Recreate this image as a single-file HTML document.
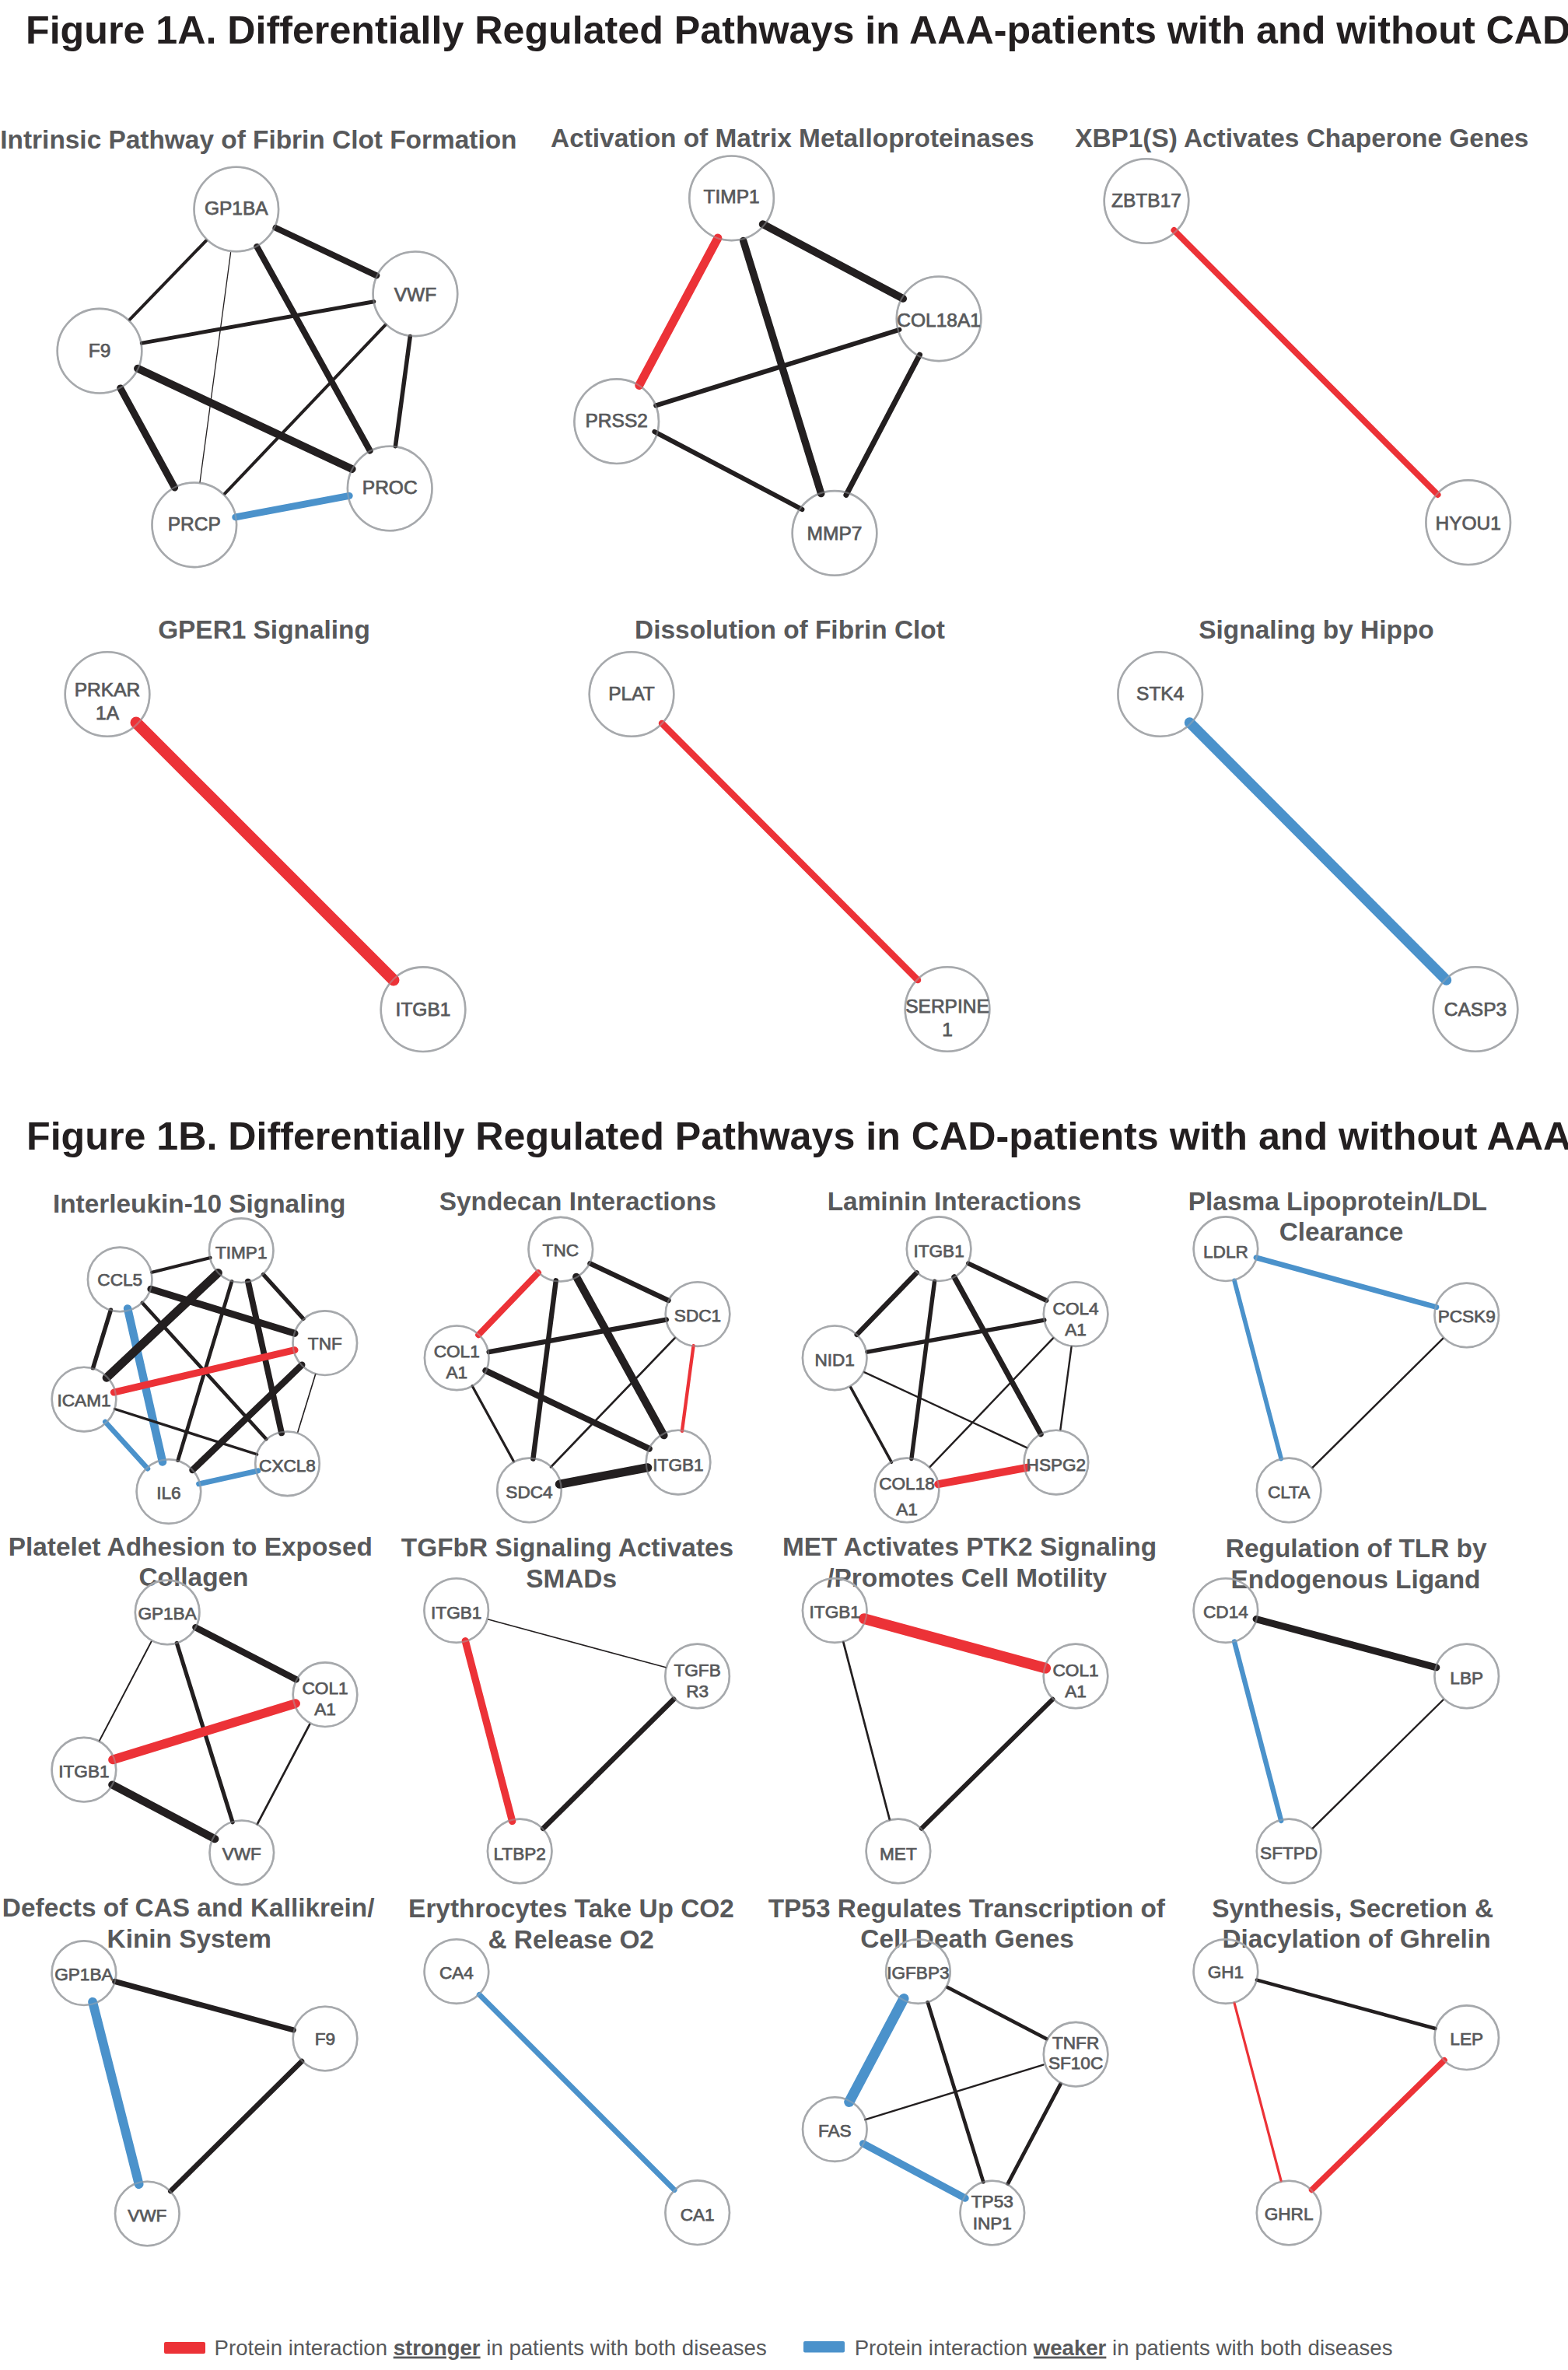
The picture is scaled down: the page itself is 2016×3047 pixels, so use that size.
<!DOCTYPE html>
<html><head><meta charset="utf-8"><style>
html,body{margin:0;padding:0;background:#fff;width:2016px;height:3047px;overflow:hidden}
svg{display:block;font-family:"Liberation Sans",sans-serif}
</style></head><body>
<svg width="2016" height="3047" viewBox="0 0 2016 3047">
<g font-weight="bold" fill="#231f20" font-size="50.2">
<text x="33" y="56">Figure 1A. Differentially Regulated Pathways in AAA-patients with and without CAD</text>
<text x="34" y="1477.5">Figure 1B. Differentially Regulated Pathways in CAD-patients with and without AAA</text>
</g>
<g font-weight="bold" fill="#58595b" xml:space="preserve">
<text x="332.4" y="190.6" font-size="33.40" text-anchor="middle">Intrinsic Pathway of Fibrin Clot Formation</text>
<text x="1018.8" y="189" font-size="33.40" text-anchor="middle">Activation of Matrix Metalloproteinases</text>
<text x="1673.8" y="189" font-size="33.40" text-anchor="middle">XBP1(S) Activates Chaperone Genes</text>
<text x="339.5" y="821" font-size="33.40" text-anchor="middle">GPER1 Signaling</text>
<text x="1015.5" y="821" font-size="33.40" text-anchor="middle">Dissolution of Fibrin Clot</text>
<text x="1692.5" y="821" font-size="33.40" text-anchor="middle">Signaling by Hippo</text>
<text x="256.2" y="1559" font-size="33.40" text-anchor="middle">Interleukin-10 Signaling</text>
<text x="742.8" y="1556.3" font-size="33.40" text-anchor="middle">Syndecan Interactions</text>
<text x="1227.0" y="1556.3" font-size="33.40" text-anchor="middle">Laminin Interactions</text>
<text x="1719.8" y="1555.5" font-size="33.40" text-anchor="middle">Plasma Lipoprotein/LDL</text>
<text x="1724.5" y="1594.8" font-size="33.40" text-anchor="middle">Clearance</text>
<text x="244.8" y="1999.8" font-size="33.40" text-anchor="middle">Platelet Adhesion to Exposed</text>
<text x="249.0" y="2039" font-size="33.40" text-anchor="middle">Collagen</text>
<text x="729.5" y="2001.3" font-size="33.40" text-anchor="middle">TGFbR Signaling Activates</text>
<text x="734.6" y="2041" font-size="33.40" text-anchor="middle">SMADs</text>
<text x="1006" y="2000.4" font-size="33.40">MET Activates PTK2 Signaling</text>
<text x="1243.2" y="2040.2" font-size="33.40" text-anchor="middle">/Promotes Cell Motility</text>
<text x="1743.7" y="2002.2" font-size="33.40" text-anchor="middle">Regulation of TLR by</text>
<text x="1743.0" y="2042" font-size="33.40" text-anchor="middle">Endogenous Ligand</text>
<text x="242.2" y="2464" font-size="33.40" text-anchor="middle">Defects of CAS and Kallikrein/</text>
<text x="243.3" y="2504.4" font-size="33.40" text-anchor="middle">Kinin System</text>
<text x="734.5" y="2465.3" font-size="33.40" text-anchor="middle">Erythrocytes Take Up CO2</text>
<text x="734.2" y="2505.1" font-size="33.40" text-anchor="middle">&amp; Release O2</text>
<text x="987.7" y="2465.3" font-size="33.40">TP53 Regulates Transcription of</text>
<text x="1243.6" y="2504.2" font-size="33.40" text-anchor="middle">Cell Death   Genes</text>
<text x="1739.1" y="2465.3" font-size="33.40" text-anchor="middle">Synthesis, Secretion &amp;</text>
<text x="1744.0" y="2504.2" font-size="33.40" text-anchor="middle">Diacylation of   Ghrelin</text>
</g>
<g fill="none" stroke="#a7a9ac" stroke-width="2.6"><circle cx="303.8" cy="269.0" r="54.3"/><circle cx="533.9" cy="377.8" r="54.3"/><circle cx="128.0" cy="451.2" r="54.3"/><circle cx="249.8" cy="674.8" r="54.3"/><circle cx="501.2" cy="628.0" r="54.3"/><circle cx="940.6" cy="254.8" r="54.3"/><circle cx="1207.1" cy="409.8" r="54.3"/><circle cx="792.7" cy="541.7" r="54.3"/><circle cx="1073.0" cy="685.4" r="54.3"/><circle cx="1474.0" cy="258.5" r="54.3"/><circle cx="1887.7" cy="671.7" r="54.3"/><circle cx="138.0" cy="892.5" r="54.3"/><circle cx="544.0" cy="1297.7" r="54.3"/><circle cx="812.0" cy="892.5" r="54.3"/><circle cx="1218.0" cy="1297.5" r="54.3"/><circle cx="1491.7" cy="892.5" r="54.3"/><circle cx="1897.0" cy="1297.5" r="54.3"/><circle cx="310.2" cy="1607.7" r="41.3"/><circle cx="154.2" cy="1644.9" r="41.3"/><circle cx="417.8" cy="1726.7" r="41.3"/><circle cx="108.0" cy="1799.1" r="41.3"/><circle cx="369.5" cy="1881.8" r="41.3"/><circle cx="216.9" cy="1917.6" r="41.3"/><circle cx="720.8" cy="1606.2" r="41.3"/><circle cx="897.0" cy="1689.6" r="41.3"/><circle cx="587.2" cy="1745.8" r="41.3"/><circle cx="872.0" cy="1880.1" r="41.3"/><circle cx="680.5" cy="1915.9" r="41.3"/><circle cx="1207.1" cy="1605.7" r="41.3"/><circle cx="1383.1" cy="1689.6" r="41.3"/><circle cx="1073.2" cy="1745.8" r="41.3"/><circle cx="1357.9" cy="1880.1" r="41.3"/><circle cx="1166.0" cy="1915.9" r="41.3"/><circle cx="1575.9" cy="1605.7" r="41.3"/><circle cx="1885.7" cy="1690.9" r="41.3"/><circle cx="1657.1" cy="1915.9" r="41.3"/><circle cx="215.1" cy="2072.9" r="41.3"/><circle cx="418.0" cy="2178.7" r="41.3"/><circle cx="107.9" cy="2275.2" r="41.3"/><circle cx="310.8" cy="2381.8" r="41.3"/><circle cx="586.7" cy="2070.6" r="41.3"/><circle cx="896.6" cy="2154.9" r="41.3"/><circle cx="668.2" cy="2379.9" r="41.3"/><circle cx="1073.2" cy="2070.6" r="41.3"/><circle cx="1383.0" cy="2154.9" r="41.3"/><circle cx="1154.9" cy="2379.9" r="41.3"/><circle cx="1575.9" cy="2070.6" r="41.3"/><circle cx="1885.7" cy="2154.9" r="41.3"/><circle cx="1657.1" cy="2379.9" r="41.3"/><circle cx="107.9" cy="2536.7" r="41.3"/><circle cx="418.0" cy="2621.0" r="41.3"/><circle cx="189.3" cy="2846.0" r="41.3"/><circle cx="586.9" cy="2534.6" r="41.3"/><circle cx="896.7" cy="2844.7" r="41.3"/><circle cx="1180.4" cy="2534.6" r="41.3"/><circle cx="1383.1" cy="2641.2" r="41.3"/><circle cx="1073.3" cy="2737.6" r="41.3"/><circle cx="1275.8" cy="2845.0" r="41.3"/><circle cx="1575.9" cy="2534.6" r="41.3"/><circle cx="1885.7" cy="2619.7" r="41.3"/><circle cx="1657.1" cy="2845.0" r="41.3"/></g>
<g stroke-linecap="round"><line x1="354.5" y1="293.0" x2="484.3" y2="354.3" stroke="#231f20" stroke-width="8"/><line x1="264.9" y1="309.5" x2="166.8" y2="410.8" stroke="#231f20" stroke-width="4"/><line x1="296.6" y1="324.7" x2="257.0" y2="620.2" stroke="#231f20" stroke-width="1.3"/><line x1="330.3" y1="317.1" x2="475.7" y2="579.5" stroke="#231f20" stroke-width="8"/><line x1="480.8" y1="387.7" x2="182.3" y2="441.1" stroke="#231f20" stroke-width="5"/><line x1="495.6" y1="417.7" x2="289.0" y2="634.6" stroke="#231f20" stroke-width="4"/><line x1="527.3" y1="432.5" x2="508.4" y2="573.7" stroke="#231f20" stroke-width="5.5"/><line x1="177.1" y1="473.8" x2="452.6" y2="603.0" stroke="#231f20" stroke-width="10"/><line x1="154.7" y1="498.9" x2="224.6" y2="627.0" stroke="#231f20" stroke-width="9"/><line x1="302.8" y1="664.9" x2="449.2" y2="637.4" stroke="#4b92cb" stroke-width="9"/><line x1="922.9" y1="306.1" x2="821.8" y2="495.4" stroke="#ec3237" stroke-width="11"/><line x1="980.7" y1="288.2" x2="1161.1" y2="383.9" stroke="#231f20" stroke-width="9.8"/><line x1="955.7" y1="309.6" x2="1055.7" y2="634.6" stroke="#231f20" stroke-width="9.5"/><line x1="843.2" y1="521.4" x2="1156.4" y2="423.9" stroke="#231f20" stroke-width="6"/><line x1="841.4" y1="555.0" x2="1031.4" y2="655.0" stroke="#231f20" stroke-width="6"/><line x1="1182.5" y1="456.1" x2="1087.9" y2="636.4" stroke="#231f20" stroke-width="7"/><line x1="1509.5" y1="296.0" x2="1848.5" y2="636.0" stroke="#ec3237" stroke-width="8"/><line x1="175.0" y1="929.0" x2="506.0" y2="1260.0" stroke="#ec3237" stroke-width="15"/><line x1="851.0" y1="930.0" x2="1180.0" y2="1260.0" stroke="#ec3237" stroke-width="8.5"/><line x1="1529.5" y1="929.0" x2="1859.5" y2="1260.0" stroke="#4b92cb" stroke-width="13.5"/><line x1="195.4" y1="1635.8" x2="270.5" y2="1617.0" stroke="#231f20" stroke-width="4.2"/><line x1="193.9" y1="1657.3" x2="379.0" y2="1714.3" stroke="#231f20" stroke-width="9"/><line x1="142.4" y1="1684.2" x2="119.6" y2="1758.7" stroke="#231f20" stroke-width="5.5"/><line x1="164.1" y1="1682.4" x2="209.0" y2="1879.5" stroke="#4b92cb" stroke-width="10.5"/><line x1="182.9" y1="1675.0" x2="342.4" y2="1850.2" stroke="#231f20" stroke-width="4.5"/><line x1="280.4" y1="1636.4" x2="137.1" y2="1771.3" stroke="#231f20" stroke-width="11"/><line x1="298.0" y1="1647.6" x2="228.7" y2="1877.7" stroke="#231f20" stroke-width="4.7"/><line x1="318.9" y1="1647.6" x2="362.0" y2="1842.4" stroke="#231f20" stroke-width="7.8"/><line x1="338.5" y1="1638.4" x2="390.0" y2="1695.4" stroke="#231f20" stroke-width="5.2"/><line x1="379.0" y1="1735.7" x2="146.3" y2="1790.1" stroke="#ec3237" stroke-width="9"/><line x1="388.2" y1="1754.8" x2="247.5" y2="1890.0" stroke="#231f20" stroke-width="8.5"/><line x1="405.7" y1="1766.6" x2="382.9" y2="1841.1" stroke="#231f20" stroke-width="1.6"/><line x1="147.6" y1="1811.5" x2="330.6" y2="1869.9" stroke="#231f20" stroke-width="3.4"/><line x1="135.3" y1="1828.0" x2="190.0" y2="1888.2" stroke="#4b92cb" stroke-width="6.5"/><line x1="255.6" y1="1907.8" x2="331.9" y2="1890.8" stroke="#4b92cb" stroke-width="7"/><line x1="692.0" y1="1636.3" x2="615.2" y2="1716.2" stroke="#ec3237" stroke-width="8"/><line x1="758.5" y1="1624.3" x2="859.5" y2="1672.0" stroke="#231f20" stroke-width="6.4"/><line x1="714.8" y1="1646.3" x2="685.4" y2="1875.5" stroke="#231f20" stroke-width="6.4"/><line x1="741.1" y1="1641.7" x2="853.6" y2="1845.3" stroke="#231f20" stroke-width="10"/><line x1="628.6" y1="1738.1" x2="856.8" y2="1696.6" stroke="#231f20" stroke-width="6.4"/><line x1="624.3" y1="1762.2" x2="834.8" y2="1862.7" stroke="#231f20" stroke-width="8"/><line x1="607.1" y1="1781.8" x2="660.4" y2="1878.8" stroke="#231f20" stroke-width="3.2"/><line x1="868.0" y1="1719.9" x2="708.1" y2="1886.2" stroke="#231f20" stroke-width="2.7"/><line x1="891.6" y1="1730.1" x2="876.9" y2="1839.9" stroke="#ec3237" stroke-width="4.3"/><line x1="719.4" y1="1908.2" x2="832.7" y2="1886.8" stroke="#231f20" stroke-width="11.2"/><line x1="1178.6" y1="1636.3" x2="1101.7" y2="1715.9" stroke="#231f20" stroke-width="6.4"/><line x1="1245.0" y1="1624.3" x2="1345.5" y2="1672.0" stroke="#231f20" stroke-width="5.9"/><line x1="1201.6" y1="1647.1" x2="1171.9" y2="1875.5" stroke="#231f20" stroke-width="5.4"/><line x1="1226.8" y1="1641.7" x2="1338.2" y2="1843.9" stroke="#231f20" stroke-width="7"/><line x1="1115.1" y1="1738.1" x2="1342.8" y2="1697.1" stroke="#231f20" stroke-width="5.4"/><line x1="1111.1" y1="1764.1" x2="1320.5" y2="1861.3" stroke="#231f20" stroke-width="2.4"/><line x1="1093.7" y1="1783.7" x2="1146.4" y2="1880.1" stroke="#231f20" stroke-width="3.5"/><line x1="1354.3" y1="1720.2" x2="1195.4" y2="1886.2" stroke="#231f20" stroke-width="2.4"/><line x1="1377.6" y1="1731.4" x2="1363.4" y2="1838.0" stroke="#231f20" stroke-width="2.4"/><line x1="1206.2" y1="1908.2" x2="1320.0" y2="1886.8" stroke="#ec3237" stroke-width="10"/><line x1="1615.1" y1="1616.8" x2="1846.8" y2="1680.5" stroke="#4b92cb" stroke-width="7.0"/><line x1="1587.0" y1="1646.3" x2="1647.2" y2="1875.5" stroke="#4b92cb" stroke-width="5.7"/><line x1="1855.4" y1="1720.7" x2="1687.4" y2="1886.8" stroke="#231f20" stroke-width="2.4"/><line x1="251.4" y1="2092.3" x2="380.8" y2="2159.3" stroke="#231f20" stroke-width="8.4"/><line x1="194.6" y1="2110.5" x2="127.7" y2="2238.3" stroke="#231f20" stroke-width="1.9"/><line x1="227.3" y1="2112.4" x2="299.1" y2="2342.8" stroke="#231f20" stroke-width="5.2"/><line x1="380.0" y1="2190.1" x2="145.1" y2="2262.4" stroke="#ec3237" stroke-width="11.8"/><line x1="398.2" y1="2216.9" x2="330.7" y2="2345.4" stroke="#231f20" stroke-width="2.7"/><line x1="144.3" y1="2294.6" x2="276.3" y2="2364.2" stroke="#231f20" stroke-width="10.2"/><line x1="627.8" y1="2082.1" x2="856.3" y2="2143.8" stroke="#231f20" stroke-width="1.6"/><line x1="598.3" y1="2109.7" x2="658.6" y2="2341.4" stroke="#ec3237" stroke-width="9.4"/><line x1="866.2" y1="2184.7" x2="698.2" y2="2350.8" stroke="#231f20" stroke-width="6.6"/><line x1="1111.1" y1="2081.1" x2="1344.1" y2="2144.6" stroke="#ec3237" stroke-width="13.9"/><line x1="1084.3" y1="2111.1" x2="1143.8" y2="2339.3" stroke="#231f20" stroke-width="2.7"/><line x1="1353.5" y1="2184.7" x2="1184.7" y2="2350.8" stroke="#231f20" stroke-width="5.9"/><line x1="1615.1" y1="2081.6" x2="1846.8" y2="2143.8" stroke="#231f20" stroke-width="9.0"/><line x1="1587.0" y1="2110.5" x2="1647.2" y2="2340.9" stroke="#4b92cb" stroke-width="6.4"/><line x1="1855.4" y1="2185.5" x2="1687.4" y2="2350.8" stroke="#231f20" stroke-width="2.4"/><line x1="147.8" y1="2547.5" x2="377.3" y2="2609.9" stroke="#231f20" stroke-width="7.2"/><line x1="119.1" y1="2573.8" x2="178.6" y2="2808.1" stroke="#4b92cb" stroke-width="11.8"/><line x1="388.0" y1="2650.1" x2="219.3" y2="2817.0" stroke="#231f20" stroke-width="6.6"/><line x1="616.3" y1="2564.4" x2="867.0" y2="2815.4" stroke="#4b92cb" stroke-width="7.0"/><line x1="1162.0" y1="2569.7" x2="1091.8" y2="2702.3" stroke="#4b92cb" stroke-width="13.2"/><line x1="1218.2" y1="2555.0" x2="1345.5" y2="2621.2" stroke="#231f20" stroke-width="4.6"/><line x1="1192.8" y1="2574.3" x2="1264.3" y2="2805.4" stroke="#231f20" stroke-width="4.6"/><line x1="1341.4" y1="2654.6" x2="1112.4" y2="2725.1" stroke="#231f20" stroke-width="2.4"/><line x1="1363.4" y1="2679.6" x2="1295.9" y2="2807.3" stroke="#231f20" stroke-width="4.8"/><line x1="1109.7" y1="2755.9" x2="1241.0" y2="2826.1" stroke="#4b92cb" stroke-width="9.4"/><line x1="1615.9" y1="2545.6" x2="1845.4" y2="2608.0" stroke="#231f20" stroke-width="4.6"/><line x1="1587.0" y1="2575.1" x2="1647.2" y2="2804.1" stroke="#ec3237" stroke-width="3.2"/><line x1="1857.0" y1="2648.8" x2="1686.6" y2="2815.4" stroke="#ec3237" stroke-width="7.6"/></g>
<g fill="none" stroke="#a7a9ac" stroke-width="2.2" stroke-opacity="0.45"><circle cx="303.8" cy="269.0" r="54.3"/><circle cx="533.9" cy="377.8" r="54.3"/><circle cx="128.0" cy="451.2" r="54.3"/><circle cx="249.8" cy="674.8" r="54.3"/><circle cx="501.2" cy="628.0" r="54.3"/><circle cx="940.6" cy="254.8" r="54.3"/><circle cx="1207.1" cy="409.8" r="54.3"/><circle cx="792.7" cy="541.7" r="54.3"/><circle cx="1073.0" cy="685.4" r="54.3"/><circle cx="1474.0" cy="258.5" r="54.3"/><circle cx="1887.7" cy="671.7" r="54.3"/><circle cx="138.0" cy="892.5" r="54.3"/><circle cx="544.0" cy="1297.7" r="54.3"/><circle cx="812.0" cy="892.5" r="54.3"/><circle cx="1218.0" cy="1297.5" r="54.3"/><circle cx="1491.7" cy="892.5" r="54.3"/><circle cx="1897.0" cy="1297.5" r="54.3"/><circle cx="310.2" cy="1607.7" r="41.3"/><circle cx="154.2" cy="1644.9" r="41.3"/><circle cx="417.8" cy="1726.7" r="41.3"/><circle cx="108.0" cy="1799.1" r="41.3"/><circle cx="369.5" cy="1881.8" r="41.3"/><circle cx="216.9" cy="1917.6" r="41.3"/><circle cx="720.8" cy="1606.2" r="41.3"/><circle cx="897.0" cy="1689.6" r="41.3"/><circle cx="587.2" cy="1745.8" r="41.3"/><circle cx="872.0" cy="1880.1" r="41.3"/><circle cx="680.5" cy="1915.9" r="41.3"/><circle cx="1207.1" cy="1605.7" r="41.3"/><circle cx="1383.1" cy="1689.6" r="41.3"/><circle cx="1073.2" cy="1745.8" r="41.3"/><circle cx="1357.9" cy="1880.1" r="41.3"/><circle cx="1166.0" cy="1915.9" r="41.3"/><circle cx="1575.9" cy="1605.7" r="41.3"/><circle cx="1885.7" cy="1690.9" r="41.3"/><circle cx="1657.1" cy="1915.9" r="41.3"/><circle cx="215.1" cy="2072.9" r="41.3"/><circle cx="418.0" cy="2178.7" r="41.3"/><circle cx="107.9" cy="2275.2" r="41.3"/><circle cx="310.8" cy="2381.8" r="41.3"/><circle cx="586.7" cy="2070.6" r="41.3"/><circle cx="896.6" cy="2154.9" r="41.3"/><circle cx="668.2" cy="2379.9" r="41.3"/><circle cx="1073.2" cy="2070.6" r="41.3"/><circle cx="1383.0" cy="2154.9" r="41.3"/><circle cx="1154.9" cy="2379.9" r="41.3"/><circle cx="1575.9" cy="2070.6" r="41.3"/><circle cx="1885.7" cy="2154.9" r="41.3"/><circle cx="1657.1" cy="2379.9" r="41.3"/><circle cx="107.9" cy="2536.7" r="41.3"/><circle cx="418.0" cy="2621.0" r="41.3"/><circle cx="189.3" cy="2846.0" r="41.3"/><circle cx="586.9" cy="2534.6" r="41.3"/><circle cx="896.7" cy="2844.7" r="41.3"/><circle cx="1180.4" cy="2534.6" r="41.3"/><circle cx="1383.1" cy="2641.2" r="41.3"/><circle cx="1073.3" cy="2737.6" r="41.3"/><circle cx="1275.8" cy="2845.0" r="41.3"/><circle cx="1575.9" cy="2534.6" r="41.3"/><circle cx="1885.7" cy="2619.7" r="41.3"/><circle cx="1657.1" cy="2845.0" r="41.3"/></g>
<g fill="#58595b" text-anchor="middle" stroke="#58595b" stroke-width="0.75"><text x="303.8" y="275.8" font-size="24.5">GP1BA</text><text x="533.9" y="387.3" font-size="24.5">VWF</text><text x="128.0" y="458.7" font-size="24.5">F9</text><text x="249.8" y="681.6" font-size="24.5">PRCP</text><text x="501.2" y="634.8" font-size="24.5">PROC</text><text x="940.6" y="261.3" font-size="24.5">TIMP1</text><text x="1207.1" y="420.3" font-size="24.5">COL18A1</text><text x="792.7" y="549.2" font-size="24.5">PRSS2</text><text x="1073.0" y="693.9" font-size="24.5">MMP7</text><text x="1474.0" y="266.0" font-size="24.5">ZBTB17</text><text x="1887.7" y="681.0" font-size="24.5">HYOU1</text><text x="138.0" y="895.0" font-size="24.5">PRKAR</text><text x="138.0" y="925.0" font-size="24.5">1A</text><text x="544.0" y="1306.0" font-size="24.5">ITGB1</text><text x="812.0" y="900.0" font-size="24.5">PLAT</text><text x="1218.0" y="1302.0" font-size="24.5">SERPINE</text><text x="1218.0" y="1332.0" font-size="24.5">1</text><text x="1491.7" y="900.0" font-size="24.5">STK4</text><text x="1897.0" y="1306.0" font-size="24.5">CASP3</text><text x="310.2" y="1618.0" font-size="22.6">TIMP1</text><text x="154.2" y="1653.3" font-size="22.6">CCL5</text><text x="417.8" y="1734.7" font-size="22.6">TNF</text><text x="108.0" y="1807.9" font-size="22.6">ICAM1</text><text x="369.5" y="1892.1" font-size="22.6">CXCL8</text><text x="216.9" y="1927.4" font-size="22.6">IL6</text><text x="720.8" y="1614.9" font-size="22.6">TNC</text><text x="897.0" y="1698.8" font-size="22.6">SDC1</text><text x="587.2" y="1744.8" font-size="22.6">COL1</text><text x="587.2" y="1771.6" font-size="22.6">A1</text><text x="872.0" y="1890.8" font-size="22.6">ITGB1</text><text x="680.5" y="1925.6" font-size="22.6">SDC4</text><text x="1207.1" y="1616.3" font-size="22.6">ITGB1</text><text x="1383.1" y="1689.9" font-size="22.6">COL4</text><text x="1383.1" y="1716.7" font-size="22.6">A1</text><text x="1073.2" y="1756.1" font-size="22.6">NID1</text><text x="1357.9" y="1890.8" font-size="22.6">HSPG2</text><text x="1166.0" y="1914.9" font-size="22.6">COL18</text><text x="1166.0" y="1948.4" font-size="22.6">A1</text><text x="1575.9" y="1616.7" font-size="22.6">LDLR</text><text x="1885.7" y="1699.8" font-size="22.6">PCSK9</text><text x="1657.1" y="1925.6" font-size="22.6">CLTA</text><text x="215.1" y="2082.1" font-size="22.6">GP1BA</text><text x="418.0" y="2178.0" font-size="22.6">COL1</text><text x="418.0" y="2204.8" font-size="22.6">A1</text><text x="107.9" y="2285.2" font-size="22.6">ITGB1</text><text x="310.8" y="2391.0" font-size="22.6">VWF</text><text x="586.7" y="2081.1" font-size="22.6">ITGB1</text><text x="896.6" y="2154.7" font-size="22.6">TGFB</text><text x="896.6" y="2182.0" font-size="22.6">R3</text><text x="668.2" y="2391.0" font-size="22.6">LTBP2</text><text x="1073.2" y="2080.3" font-size="22.6">ITGB1</text><text x="1383.0" y="2155.3" font-size="22.6">COL1</text><text x="1383.0" y="2182.0" font-size="22.6">A1</text><text x="1154.9" y="2391.0" font-size="22.6">MET</text><text x="1575.9" y="2080.3" font-size="22.6">CD14</text><text x="1885.7" y="2165.2" font-size="22.6">LBP</text><text x="1657.1" y="2390.2" font-size="22.6">SFTPD</text><text x="107.9" y="2545.6" font-size="22.6">GP1BA</text><text x="418.0" y="2628.7" font-size="22.6">F9</text><text x="189.3" y="2856.3" font-size="22.6">VWF</text><text x="586.9" y="2544.3" font-size="22.6">CA4</text><text x="896.7" y="2855.0" font-size="22.6">CA1</text><text x="1180.4" y="2544.3" font-size="22.6">IGFBP3</text><text x="1383.1" y="2633.5" font-size="22.6">TNFR</text><text x="1383.1" y="2659.5" font-size="22.6">SF10C</text><text x="1073.3" y="2746.5" font-size="22.6">FAS</text><text x="1275.8" y="2837.6" font-size="22.6">TP53</text><text x="1275.8" y="2865.7" font-size="22.6">INP1</text><text x="1575.9" y="2543.0" font-size="22.6">GH1</text><text x="1885.7" y="2628.7" font-size="22.6">LEP</text><text x="1657.1" y="2853.7" font-size="22.6">GHRL</text></g>
<rect x="211" y="3011" width="53" height="15" rx="2" fill="#ec3237"/>
<rect x="1033" y="3010" width="53" height="14.5" rx="2" fill="#4b92cb"/>
<g font-size="27.6" fill="#58595b" style="text-decoration-skip-ink:none">
<text x="275.6" y="3027.6">Protein interaction <tspan font-weight="bold" text-decoration="underline">stronger</tspan> in patients with both diseases</text>
<text x="1098.7" y="3027.6">Protein interaction <tspan font-weight="bold" text-decoration="underline">weaker</tspan> in patients with both diseases</text>
</g>
</svg>
</body></html>
